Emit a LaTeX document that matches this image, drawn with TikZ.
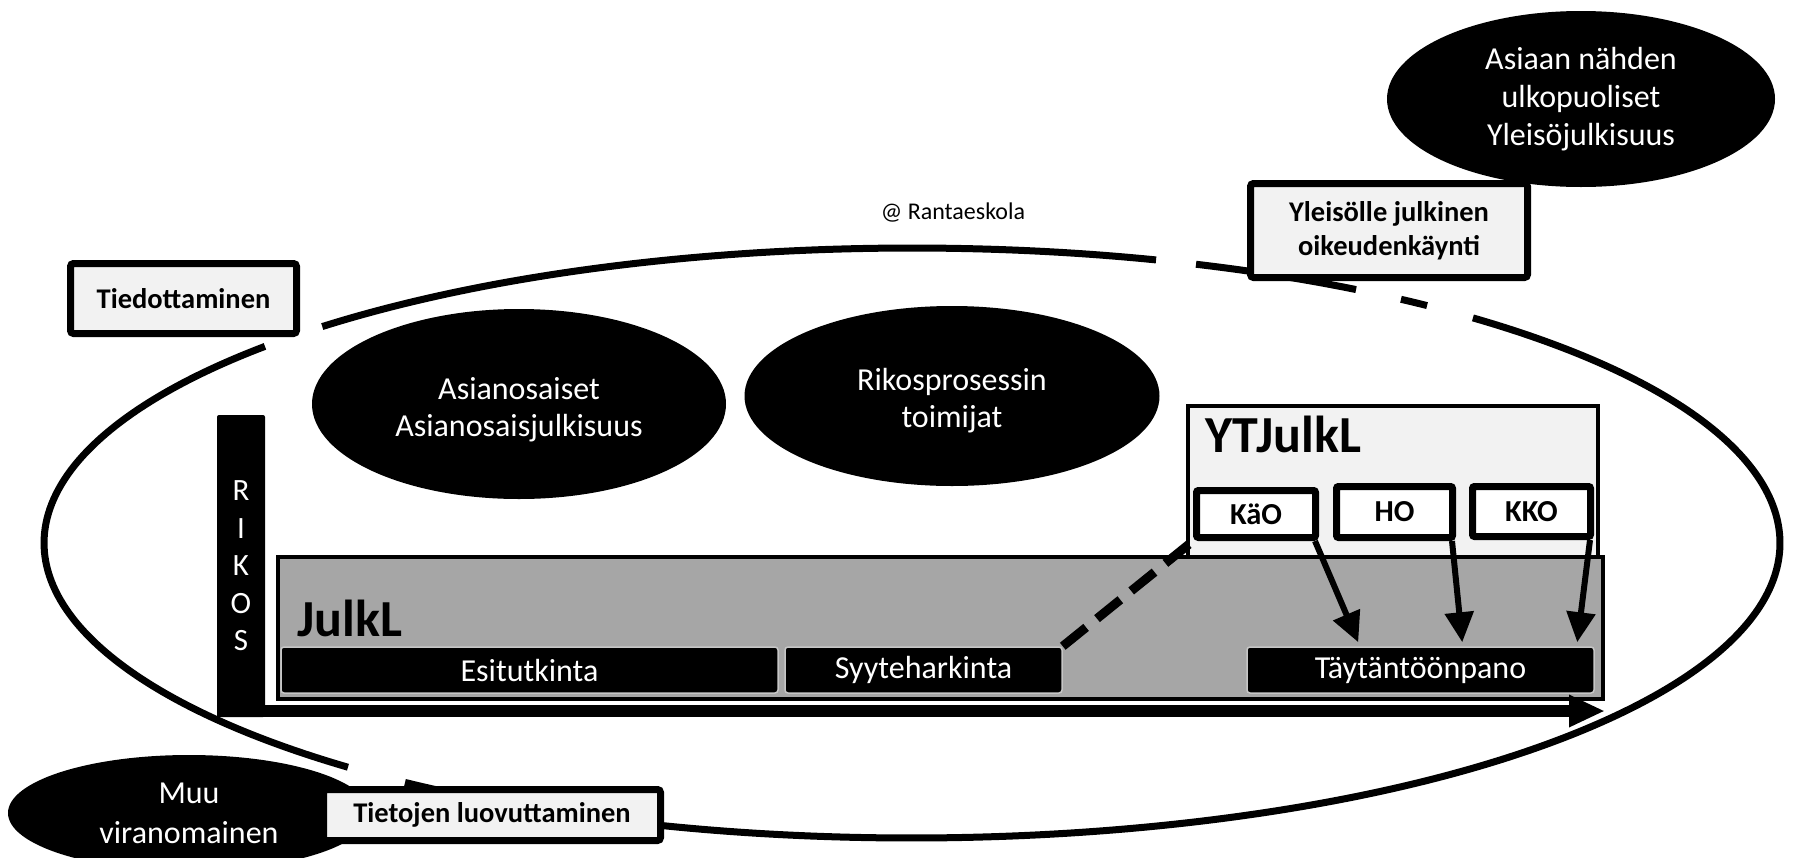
\documentclass[tikz,border=0pt]{standalone}
\usepackage{fontspec}
\setmainfont{Carlito}
\usetikzlibrary{shapes.geometric,arrows.meta,calc}
\definecolor{lightfill}{HTML}{F2F2F2}
\definecolor{midgray}{HTML}{A6A6A6}
\newcommand{\fsreg}{\fontsize{32}{37}\selectfont}
\newcommand{\fsbox}{\fontsize{28.5}{34}\selectfont\bfseries}
\newcommand{\fscourt}{\fontsize{30.5}{34}\selectfont\bfseries}
\newcommand{\fsbig}{\fontsize{52}{60}\selectfont\bfseries}
\newcommand{\fssmall}{\fontsize{24}{28}\selectfont}
\newcommand{\ellarc}[2]{\draw[bigline] ([shift={({868*cos(#1)},{295*sin(#1)})}]C) arc[start angle=#1,end angle=#2,x radius=868,y radius=295];}
\begin{document}
\begin{tikzpicture}[x=1pt,y=-1pt,
  bigline/.style={line width=7pt},
  lbox/.style={draw=black,line width=7pt,fill=lightfill,rounded corners=3pt,font=\fsbox,align=center,inner sep=0pt},
  cbox/.style={draw=black,line width=7pt,fill=white,rounded corners=2pt,font=\fscourt,inner sep=0pt},
  blk/.style={fill=black,draw=gray!45,line width=1.5pt,rounded corners=3pt,text=white,font=\fsreg,inner sep=0pt,minimum height=46pt},
  bell/.style={ellipse,fill=black,text=white,font=\fsreg,align=center,inner sep=0pt},
  arr/.style={line width=6pt,-{Triangle[length=30pt,width=28pt]}},
  lawbox/.style={draw=black,line width=4pt,inner sep=0pt},
  lawlabel/.style={font=\fsbig,anchor=base west,inner sep=0pt}
]
\useasboundingbox (0,0) rectangle (1794,857);
\coordinate (C) at (912,543);

% big ellipse (with gaps)
\ellarc{-132.8}{-73.67}
\ellarc{-70.90}{-59.23}
\ellarc{-55.71}{-53.60}
\ellarc{-49.74}{125.74}
\ellarc{130.53}{221.8}

% black ellipses
\node[bell,minimum width=388pt,minimum height=176pt,font=\fontsize{32}{38.3}\selectfont] (ulko) at (1581,99) {Asiaan nähden\\ulkopuoliset\\Yleisöjulkisuus};
\node[bell,minimum width=414pt,minimum height=190pt] (asian) at (519,404) {\rule{0pt}{33pt}Asianosaiset\\Asianosaisjulkisuus};
\node[bell,minimum width=415pt,minimum height=180pt] (rikosp) at (952,396) {\rule{0pt}{31pt}Rikosprosessin\\toimijat};
\node[bell,minimum width=362pt,minimum height=116pt,font=\fontsize{32}{40}\selectfont] (muu) at (189,813) {Muu\\viranomainen};

% label boxes
\node[lbox,minimum width=226pt,minimum height=70pt] (tied) at (183.5,298.5) {Tiedottaminen};
\node[lbox,minimum width=277pt,minimum height=94pt] (yleis) at (1389,230.5) {Yleisölle julkinen\\oikeudenkäynti};
\node[lbox,minimum width=337pt,minimum height=51pt] (tiet) at (492,815) {Tietojen luovuttaminen};

\node[font=\fssmall] (copy) at (953,213) {@ Rantaeskola};

% YTJulkL
\node[lawbox,fill=lightfill,minimum width=410pt,minimum height=160pt] (yt) at (1393,486) {};
\node[lawlabel] (ytl) at (1205,452) {YTJulkL};

\node[cbox,minimum width=119pt,minimum height=47pt] (kao) at (1256,514) {KäO};
\node[cbox,minimum width=116pt,minimum height=51pt] (ho) at (1394.5,512) {HO};
\node[cbox,minimum width=118pt,minimum height=50pt] (kko) at (1531.5,511.5) {KKO};

% JulkL
\node[lawbox,fill=midgray,minimum width=1325pt,minimum height=142pt] (julkl) at (940.5,628) {};
\node[lawlabel] (jl) at (297,636) {JulkL};

\node[blk,minimum width=497pt] (esi) at (529.5,670) {Esitutkinta};
\node[blk,minimum width=277pt] (syy) at (923.5,670) {Syyteharkinta};
\node[blk,minimum width=347pt] (tay) at (1420.5,670) {Täytäntöönpano};

% RIKOS bar and time arrow
\node[fill=black,rounded corners=2pt,minimum width=48pt,minimum height=302pt,inner sep=0pt,text=white,align=center,font=\fontsize{31}{37.5}\selectfont] (rikos) at (241,566) {R\\I\\K\\O\\S};
\coordinate (tend) at (1605,711);
\draw[line width=12pt,-{Triangle[length=36pt,width=30pt]}] (rikos.south west |- tend) -- (tend);

% court arrows
\draw[arr] ([xshift=-4pt]kao.south east) -- ([xshift=112pt,yshift=4pt]tay.north west);
\draw[arr] ([xshift=-4pt]ho.south east) -- ([xshift=216pt,yshift=4pt]tay.north west);
\draw[arr] ([xshift=-4pt]kko.south east) -- ([xshift=331pt,yshift=4pt]tay.north west);

% dashed link
\draw[line width=9pt,dash pattern=on 30pt off 14pt] (syy.north east) -- (kao.south west);
\end{tikzpicture}
\end{document}
